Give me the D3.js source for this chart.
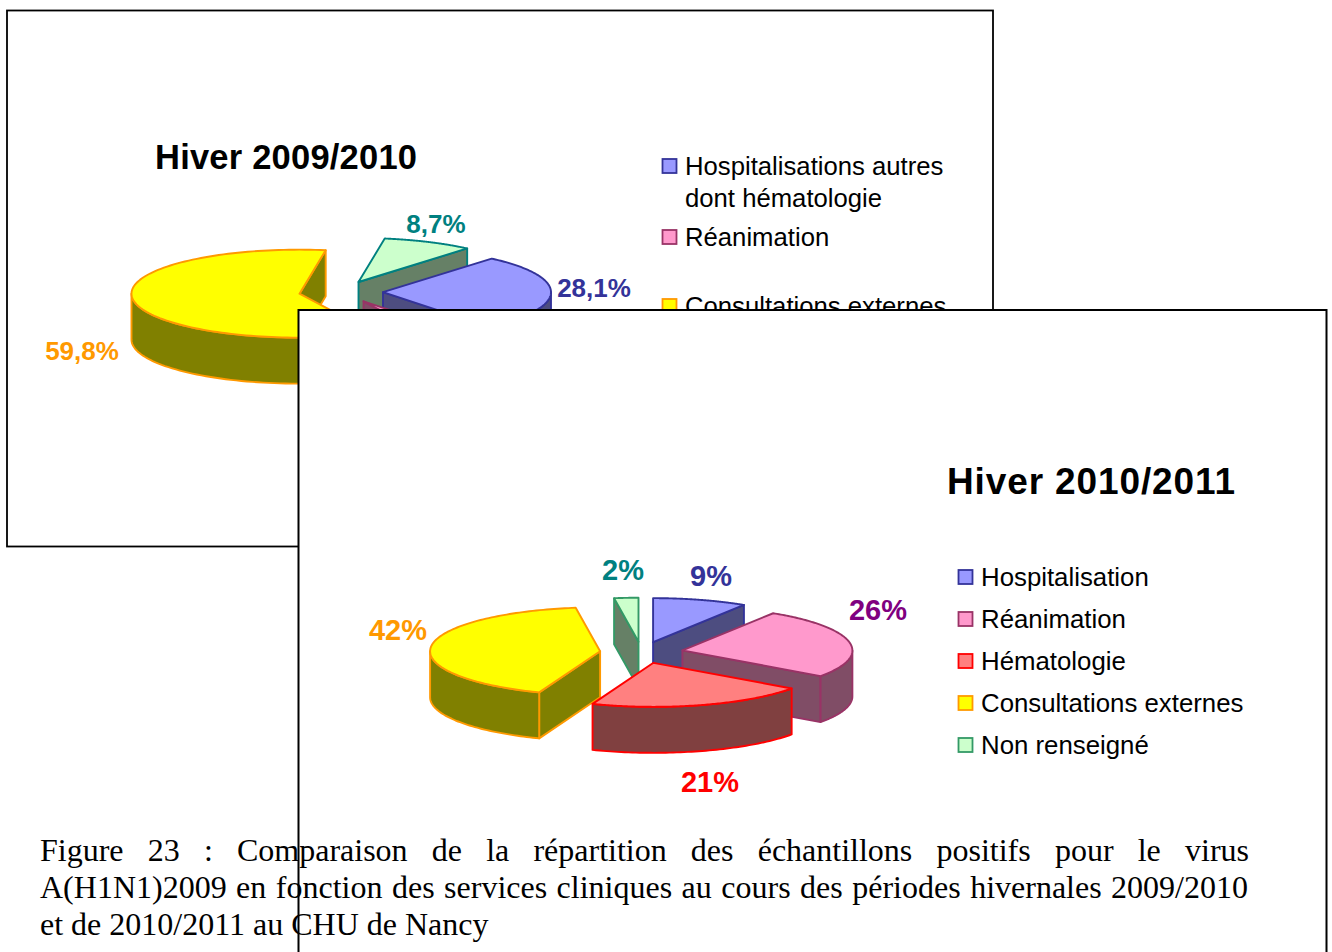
<!DOCTYPE html>
<html>
<head>
<meta charset="utf-8">
<script src="https://d3js.org/d3.v7.min.js"></script>
<style>
  html, body { margin: 0; padding: 0; background: #fff; overflow: hidden; }
  svg { display: block; }
  .sans { font-family: "Liberation Sans", Arial, sans-serif; }
  .serif { font-family: "Liberation Serif", "Times New Roman", serif; }
</style>
</head>
<body>
<script>
// Hiver 2009/2010 (the Reanimation value is what is left of 100, its label is hidden)
var values1 = [28.1, 3.4, 59.8, 8.7];
var labels1 = ["28,1%", null, "59,8%", "8,7%"];
var keys1 = ["hosp", "rea", "cons", "nonr"];
var legend1 = ["Hospitalisations autres|dont hématologie", "Réanimation", "Consultations externes", "Non renseigné"];

// Hiver 2010/2011 (the last slice reads a little over its rounded 2% label)
var values2 = [9, 26, 21, 42, 2.3];
var labels2 = ["9%", "26%", "21%", "42%", "2%"];
var keys2 = ["hosp", "rea", "hema", "cons", "nonr2"];
var legend2 = ["Hospitalisation", "Réanimation", "Hématologie", "Consultations externes", "Non renseigné"];

var caption = [
  "Figure 23 : Comparaison de la répartition des échantillons positifs pour le virus",
  "A(H1N1)2009 en fonction des services cliniques au cours des périodes hivernales 2009/2010",
  "et de 2010/2011 au CHU de Nancy"
];

// fill, outline, side wall, label colour
var styles = {
  hosp:  {fill: "#9999ff", line: "#333399", wall: "#4d4d80", text: "#333399"},
  rea:   {fill: "#ff99cc", line: "#993366", wall: "#804d66", text: "#800080"},
  hema:  {fill: "#ff8080", line: "#ff0000", wall: "#804040", text: "#ff0000"},
  cons:  {fill: "#ffff00", line: "#ff9900", wall: "#808000", text: "#ff9900"},
  nonr:  {fill: "#ccffcc", line: "#008080", wall: "#668066", text: "#008080"},
  nonr2: {fill: "#ccffcc", line: "#339966", wall: "#668066", text: "#008080"}
};

var svg = d3.select("body").append("svg")
  .attr("width", 1332)
  .attr("height", 952);

// draws one exploded 3D pie, back slices first
function drawPie(g, values, keys, o) {
  var pie = d3.pie().sort(null).value(function(d) { return d; })
    .startAngle(o.start).endAngle(o.start + 2 * Math.PI);
  var arcs = pie(values);

  // unit circle -> screen, the tilt is only the smaller y range
  var x = d3.scaleLinear().domain([-1, 1]).range([-o.rx, o.rx]);
  var y = d3.scaleLinear().domain([-1, 1]).range([o.ry, -o.ry]);
  var line = d3.line();

  var slices = arcs.map(function(a, i) {
    var mid = (a.startAngle + a.endAngle) / 2;
    return {
      a: a,
      key: keys[i],
      ax: o.cx + x(o.explode * Math.sin(mid)),
      ay: o.cy + y(o.explode * Math.cos(mid))
    };
  });
  slices.sort(function(p, q) { return p.ay - q.ay; });

  slices.forEach(function(s) {
    var st = styles[s.key];
    var rim = function(t, dz) {
      return [s.ax + x(Math.sin(t)), s.ay + y(Math.cos(t)) + dz];
    };
    var apex = [s.ax, s.ay];
    var apexLow = [s.ax, s.ay + o.depth];
    var sg = g.append("g")
      .attr("stroke", st.line)
      .attr("stroke-width", 1.9)
      .attr("stroke-linejoin", "round");

    // the cut faces, only those turned towards the viewer
    if (Math.sin(s.a.startAngle) < 0) {
      sg.append("path")
        .attr("fill", st.wall)
        .attr("d", line([apex, rim(s.a.startAngle, 0), rim(s.a.startAngle, o.depth), apexLow]) + "Z");
    }
    if (Math.sin(s.a.endAngle) > 0.001) {
      sg.append("path")
        .attr("fill", st.wall)
        .attr("d", line([apex, rim(s.a.endAngle, 0), rim(s.a.endAngle, o.depth), apexLow]) + "Z");
    }

    // outer wall, only the part facing the viewer (between 90 and 270 degrees, all turns)
    for (var k = 0; k < 2; k++) {
      var lo = Math.max(s.a.startAngle, Math.PI / 2 + k * 2 * Math.PI);
      var hi = Math.min(s.a.endAngle, 3 * Math.PI / 2 + k * 2 * Math.PI);
      if (hi > lo) {
        var ts = d3.range(0, 61).map(function(n) { return lo + (hi - lo) * n / 60; });
        var top = ts.map(function(t) { return rim(t, 0); });
        var low = ts.slice().reverse().map(function(t) { return rim(t, o.depth); });
        sg.append("path")
          .attr("fill", st.wall)
          .attr("d", line(top.concat(low)) + "Z");
      }
    }

    // top face
    var face = d3.range(0, 121).map(function(n) {
      return rim(s.a.startAngle + (s.a.endAngle - s.a.startAngle) * n / 120, 0);
    });
    sg.append("path")
      .attr("fill", st.fill)
      .attr("d", line([apex].concat(face)) + "Z");
  });
}

function drawLabels(g, labels, keys, pos, size) {
  labels.forEach(function(l, i) {
    if (!l) return;
    g.append("text")
      .attr("class", "sans")
      .attr("x", pos[i][0])
      .attr("y", pos[i][1])
      .attr("text-anchor", "middle")
      .attr("font-size", size)
      .attr("font-weight", "bold")
      .attr("fill", styles[keys[i]].text)
      .text(l);
  });
}

function drawLegend(g, names, keys, x0, rows, size) {
  names.forEach(function(n, i) {
    var st = styles[keys[i]];
    g.append("rect")
      .attr("x", x0)
      .attr("y", rows[i] - 7)
      .attr("width", 14)
      .attr("height", 14)
      .attr("fill", st.fill)
      .attr("stroke", st.line)
      .attr("stroke-width", 1.8);
    n.split("|").forEach(function(part, j) {
      g.append("text")
        .attr("class", "sans")
        .attr("x", x0 + 22.5)
        .attr("y", rows[i] + 9 + j * 32)
        .attr("font-size", size)
        .attr("fill", "#000")
        .text(part);
    });
  });
}

// the titles are a bit spread out in the original, so fit them to a width
function drawTitle(g, txt, x0, y0, size, width) {
  var t = g.append("text")
    .attr("class", "sans")
    .attr("x", x0)
    .attr("y", y0)
    .attr("font-size", size)
    .attr("font-weight", "bold")
    .attr("fill", "#000")
    .text(txt);
  var w = t.node().getComputedTextLength();
  t.attr("letter-spacing", (width - w) / (txt.length - 1));
}

// First chart
var back = svg.append("g");
back.append("rect")
  .attr("x", 7).attr("y", 10.5)
  .attr("width", 986).attr("height", 536)
  .attr("fill", "#fff").attr("stroke", "#000").attr("stroke-width", 1.8);
drawTitle(back, "Hiver 2009/2010", 155, 169.3, 34.5, 262);
drawPie(back, values1, keys1, {
  start: 40.3 * Math.PI / 180, cx: 341, cy: 292, rx: 168, ry: 44,
  explode: 0.25, depth: 46
});
drawLabels(back, labels1, keys1, [[594, 297], null, [82, 360], [436, 233]], 26);
drawLegend(back, legend1, keys1, 662.5, [166, 237, 306, 345], 25.7);

// Second chart, sits over the first one and runs off the bottom of the page
var front = svg.append("g");
front.append("rect")
  .attr("x", 298.5).attr("y", 310)
  .attr("width", 1028).attr("height", 700)
  .attr("fill", "#fff").attr("stroke", "#000").attr("stroke-width", 2);
drawTitle(front, "Hiver 2010/2011", 947, 493.5, 37, 288);
drawPie(front, values2, keys2, {
  start: 0, cx: 641.5, cy: 652.5, rx: 170, ry: 44,
  explode: 0.245, depth: 46
});
drawLabels(front, labels2, keys2, [[711, 586], [878, 620], [710, 792], [398, 640], [623, 580]], 29);
drawLegend(front, legend2, keys2, 958.5, [577, 619, 661, 703, 745], 25.8);

// Caption, the first two lines are justified between the margins
var lineEnds = [1249, 1248, null];
caption.forEach(function(c, i) {
  var t = svg.append("text")
    .attr("class", "serif")
    .attr("x", 40)
    .attr("y", 861 + i * 37)
    .attr("font-size", 32)
    .attr("fill", "#000")
    .text(c);
  if (lineEnds[i]) {
    var gaps = c.split(" ").length - 1;
    var w = t.node().getComputedTextLength();
    t.attr("word-spacing", (lineEnds[i] - 40 - w) / gaps);
  }
});
</script>
</body>
</html>
